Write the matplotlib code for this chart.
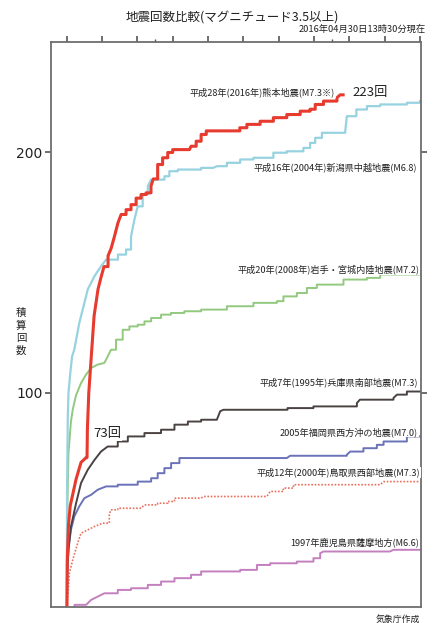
import matplotlib
matplotlib.use("Agg")
import matplotlib.pyplot as plt
from matplotlib.ticker import FixedLocator

plt.rcParams["font.family"] = ["Noto Sans CJK JP", "DejaVu Sans"]

# =========================
# データ（経過日数, 積算回数）
# =========================
kumamoto_days = [0, 0.03, 0.1, 0.2, 0.35, 0.53, 0.81, 1.1, 1.15, 1.17, 1.25, 1.38, 1.55, 1.77,
                 1.94, 2.11, 2.34, 2.51, 2.7, 2.9, 3.08, 3.36, 3.64, 3.93, 4.21, 4.49,
                 4.77, 4.9, 5.15, 5.43, 5.72, 6.0, 6.95, 7.04, 7.33, 7.61, 7.9, 9.4,
                 9.8, 10.2, 10.95, 11.7, 12.46, 13.22, 13.78, 14.07, 14.54, 15.3, 15.48, 15.65]
kumamoto_counts = [0, 30, 45, 53, 58, 64, 71, 73, 73, 85, 100, 114, 132, 143,
                   148, 152.5, 157, 160, 165, 170.7, 174.2, 176.2, 178.3, 181, 182.5, 183.2,
                   186, 189, 195, 197.8, 200, 201.2, 201.2, 202.6, 204.7, 207.5, 209, 209,
                   210.3, 211.7, 213, 214.5, 215.8, 217.2, 218, 220, 221.4, 222.8, 224, 224]

niigata_days = [0, 0.02, 0.06, 0.1, 0.2, 0.3, 0.43, 0.71, 1.0, 1.19, 1.57, 1.94, 2.23, 2.9,
                3.36, 3.64, 3.83, 4.02, 4.3, 4.59, 4.78, 5.53, 5.81, 6.29, 7.61, 8.3, 8.5,
                9.07, 9.82, 10.57, 11.7, 12.46, 13.4, 13.78, 14.07, 14.45, 15.77, 15.86,
                16.4, 17.0, 17.75, 19.26, 20.0]
niigata_counts = [0, 60, 90, 100, 108, 115, 118, 129, 137.4, 143, 148.5, 152.6, 155.4, 157.5,
                  159.6, 165, 172, 177.6, 182.5, 186, 188.7, 190.1, 192.2, 192.9, 193.6, 193.6, 194.3,
                  195.7, 197.1, 197.8, 199.9, 200.5, 201.9, 204, 206.1, 208.2, 208.9, 215.1,
                  217.9, 219.3, 220, 220.7, 221.4]

iwate_days = [0, 0.03, 0.1, 0.24, 0.34, 0.53, 0.81, 1.09, 1.38, 1.75, 2.13, 2.32, 2.51, 2.79,
              3.17, 3.55, 4.02, 4.4, 4.78, 5.34, 5.9, 6.66, 7.61, 8.12, 9.07, 10.57, 11.9,
              12.27, 13.03, 13.6, 14.16, 15.67, 17.0, 17.75, 20.0]
iwate_counts = [0, 50, 75, 88, 93, 99, 104, 107.5, 110.3, 111.7, 112.4, 115.1, 117.9, 122.1,
                126.2, 127.6, 128.3, 129.7, 131.1, 132.5, 133.2, 133.9, 134.6, 134.6, 136, 137.4, 138.1,
                140.1, 141.5, 143.6, 145, 147.1, 147.8, 149.2, 149.9]

hyogo_days = [0, 0.03, 0.1, 0.24, 0.53, 0.81, 1.19, 1.57, 1.94, 2.32, 2.89, 3.46, 4.4, 5.34,
              6.1, 6.86, 7.61, 8.5, 8.69, 8.87, 12.27, 12.5, 13.97, 16.43, 16.6, 18.5, 18.7, 19.26, 20.0]
hyogo_counts = [0, 25, 35, 44.3, 54, 62.4, 67.9, 72, 75.5, 77.6, 79.7, 81.8, 83.2, 84.6,
                86.7, 88, 88.75, 88.75, 92.3, 92.9, 92.9, 93.6, 94.3, 95.7, 97.1, 97.8, 99.2, 100.5, 100.5]

fukuoka_days = [0, 0.03, 0.1, 0.24, 0.43, 0.71, 1.0, 1.38, 1.75, 2.23, 2.89, 3.64, 4.02, 4.78,
                5.15, 5.53, 5.91, 6.38, 7.61, 12.46, 12.65, 15.86, 16.05, 16.8, 17.56, 17.94,
                18.88, 19.26, 20.0]
fukuoka_counts = [0, 25, 35, 43, 48.5, 52.7, 56.1, 57.5, 59.6, 61, 61.7, 61.7, 63, 64.4,
                  66.5, 68.6, 70.7, 72.8, 72.8, 72.8, 73.75, 74.2, 75.5, 76.9, 78.3, 79.7,
                  79.7, 81.8, 81.8]

tottori_days = [0, 0.05, 0.15, 0.34, 0.62, 0.81, 1.19, 1.57, 2.04, 2.41, 2.5, 2.89, 4.21, 4.4,
                5.15, 5.72, 6.1, 7.61, 7.74, 11.33, 11.52, 12.27, 12.84, 17.75, 17.94, 20.0]
tottori_counts = [0, 14, 24.9, 30.4, 37.4, 41.5, 42.9, 44.3, 45.7, 49.2, 51.25, 51.9, 51.9, 53.3,
                  54, 54.7, 56.1, 56.1, 56.8, 56.8, 58.9, 60.3, 61.7, 61.7, 63, 63]

kagoshima_days = [0, 0.3, 0.45, 1.1, 1.38, 2.13, 2.89, 3.64, 4.59, 5.34, 6.1, 7.04, 7.61,
                  8.5, 9.82, 10.77, 11.52, 13.03, 13.97, 14.35, 14.54, 18.3, 18.5, 20.0]
kagoshima_counts = [0, 5, 11.7, 11.7, 13.75, 16.5, 17.9, 18.6, 20, 21.4, 22.8, 24.2, 25.6,
                    25.6, 26.25, 28.3, 29, 29.7, 31.1, 33.2, 33.9, 33.9, 34.6, 34.6]

labels = [
    "平成28年(2016年)熊本地震(M7.3※)",
    "平成16年(2004年)新潟県中越地震(M6.8)",
    "平成20年(2008年)岩手・宮城内陸地震(M7.2)",
    "平成7年(1995年)兵庫県南部地震(M7.3)",
    "2005年福岡県西方沖の地震(M7.0)",
    "平成12年(2000年)鳥取県西部地震(M7.3)",
    "1997年鹿児島県薩摩地方(M6.6)",
]


# 序盤はなめらか、それ以降の間隔が広いところだけ階段にする
def stairs(xs, ys, gap=0.2, start=2.0):
    px, py = [xs[0]], [ys[0]]
    for x0, y0, x1, y1 in zip(xs[:-1], ys[:-1], xs[1:], ys[1:]):
        if x0 >= start and x1 - x0 > gap and y1 != y0:
            px.append(x1)
            py.append(y0)
        px.append(x1)
        py.append(y1)
    return px, py


# =========================
# 図
# =========================
fig = plt.figure(figsize=(4.33, 6.23), dpi=100)
ax = fig.add_axes([0.1178, 0.0257, 0.9723 - 0.1178, 0.9326 - 0.0257])

ax.plot(*stairs(kagoshima_days, kagoshima_counts), color="#c47fbf", lw=1.4)
ax.plot(*stairs(tottori_days, tottori_counts), color="#e8705f", lw=1.2, ls=(0, (1, 1)))
ax.plot(*stairs(fukuoka_days, fukuoka_counts), color="#6a72b8", lw=1.4)
ax.plot(*stairs(hyogo_days, hyogo_counts), color="#4b4242", lw=1.4)
ax.plot(*stairs(iwate_days, iwate_counts), color="#92c97e", lw=1.4)
ax.plot(*stairs(niigata_days, niigata_counts), color="#97d2e0", lw=1.6)
ax.plot(*stairs(kumamoto_days, kumamoto_counts), color="#e63b2e", lw=2.2)

ax.set_xlim(-0.89, 20.06)
ax.set_ylim(10.8, 246)

# 軸
for side in ["left", "right", "top", "bottom"]:
    ax.spines[side].set_color("#6e6e6e")
    ax.spines[side].set_linewidth(1.3)

ax.set_yticks([100, 200])
ax.set_yticklabels(["100", "200"], fontsize=10, family=["DejaVu Sans"], color="#222222")
ax.tick_params(axis="y", direction="out", length=4, width=1.2, color="#555555",
               left=True, right=True, pad=2)
ax.xaxis.set_major_locator(FixedLocator(list(range(0, 21, 2))))
ax.xaxis.set_minor_locator(FixedLocator([5, 15]))
ax.tick_params(axis="x", which="major", direction="out", length=4, width=1.2, color="#555555",
               top=True, bottom=False, labeltop=False, labelbottom=False)
ax.tick_params(axis="x", which="minor", direction="out", length=2, width=1.0, color="#555555",
               top=True, bottom=False)

# ラベル
box = dict(facecolor="white", edgecolor="none", pad=0.5)
label_pos = [(15.2, 225), (19.85, 193.7), (19.96, 151.2), (19.9, 104.2),
             (19.9, 83.7), (20.0, 66.7), (19.96, 37.9)]
for text, (x, y) in zip(labels, label_pos):
    ax.text(x, y, text, fontsize=6.6, ha="right", va="center", color="#222222", bbox=box)

ax.text(16.2, 225, "223回", fontsize=9.5, ha="left", va="center", color="#222222", bbox=box)
ax.text(1.49, 82.9, "73回", fontsize=9.5, ha="left", va="center", color="#222222", bbox=box)

# タイトルなど
fig.text(232 / 433, 1 - 17 / 623, "地震回数比較(マグニチュード3.5以上)", fontsize=9,
         ha="center", va="center", color="#222222")
fig.text(426 / 433, 1 - 29 / 623, "2016年04月30日13時30分現在", fontsize=6.7,
         ha="right", va="center", color="#222222")
fig.text(420 / 433, 1 - 619 / 623, "気象庁作成", fontsize=6.4,
         ha="right", va="center", color="#222222")
fig.text(21 / 433, 1 - 332 / 623, "積\n算\n回\n数", fontsize=7.5, linespacing=1.3,
         ha="center", va="center", color="#222222")

fig.savefig("out.png", dpi=100, facecolor="white")
